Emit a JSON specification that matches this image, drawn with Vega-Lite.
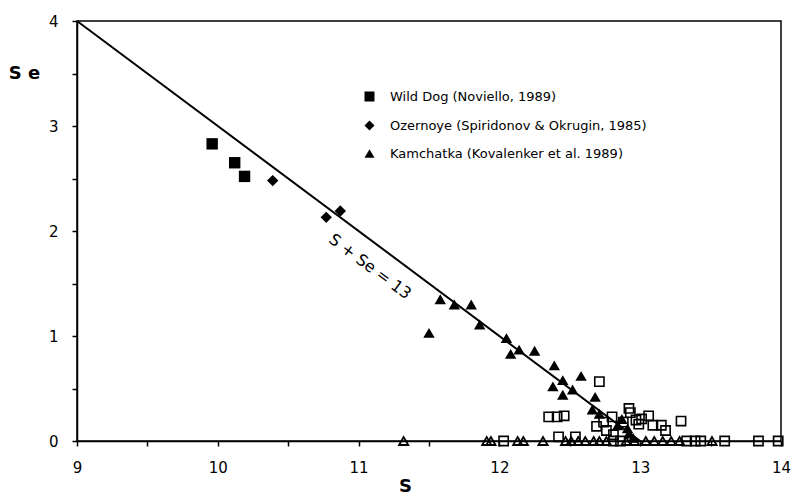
{
  "$schema": "https://vega.github.io/schema/vega-lite/v6.json",
  "autosize": "none",
  "width": 704,
  "height": 420,
  "padding": {"left": 77, "top": 21, "right": 10, "bottom": 57},
  "background": "white",
  "config": {
    "view": {"stroke": "black", "strokeWidth": 1.5},
    "font": "DejaVu Sans"
  },
  "datasets": {
    "pts": [
      {"S": 9.96, "Se": 2.83, "series": "Wild Dog (Noviello, 1989)"},
      {"S": 10.12, "Se": 2.65, "series": "Wild Dog (Noviello, 1989)"},
      {"S": 10.19, "Se": 2.52, "series": "Wild Dog (Noviello, 1989)"},
      {"S": 10.39, "Se": 2.48, "series": "Ozernoye (Spiridonov  & Okrugin, 1985)"},
      {"S": 10.77, "Se": 2.13, "series": "Ozernoye (Spiridonov  & Okrugin, 1985)"},
      {"S": 10.87, "Se": 2.19, "series": "Ozernoye (Spiridonov  & Okrugin, 1985)"},
      {"S": 11.50, "Se": 1.03, "series": "Kamchatka (Kovalenker et al. 1989)"},
      {"S": 11.58, "Se": 1.35, "series": "Kamchatka (Kovalenker et al. 1989)"},
      {"S": 11.68, "Se": 1.30, "series": "Kamchatka (Kovalenker et al. 1989)"},
      {"S": 11.80, "Se": 1.30, "series": "Kamchatka (Kovalenker et al. 1989)"},
      {"S": 11.86, "Se": 1.11, "series": "Kamchatka (Kovalenker et al. 1989)"},
      {"S": 12.05, "Se": 0.98, "series": "Kamchatka (Kovalenker et al. 1989)"},
      {"S": 12.08, "Se": 0.83, "series": "Kamchatka (Kovalenker et al. 1989)"},
      {"S": 12.14, "Se": 0.87, "series": "Kamchatka (Kovalenker et al. 1989)"},
      {"S": 12.25, "Se": 0.86, "series": "Kamchatka (Kovalenker et al. 1989)"},
      {"S": 12.39, "Se": 0.72, "series": "Kamchatka (Kovalenker et al. 1989)"},
      {"S": 12.38, "Se": 0.52, "series": "Kamchatka (Kovalenker et al. 1989)"},
      {"S": 12.45, "Se": 0.58, "series": "Kamchatka (Kovalenker et al. 1989)"},
      {"S": 12.45, "Se": 0.44, "series": "Kamchatka (Kovalenker et al. 1989)"},
      {"S": 12.52, "Se": 0.49, "series": "Kamchatka (Kovalenker et al. 1989)"},
      {"S": 12.58, "Se": 0.62, "series": "Kamchatka (Kovalenker et al. 1989)"},
      {"S": 12.68, "Se": 0.42, "series": "Kamchatka (Kovalenker et al. 1989)"},
      {"S": 12.66, "Se": 0.30, "series": "Kamchatka (Kovalenker et al. 1989)"},
      {"S": 12.71, "Se": 0.26, "series": "Kamchatka (Kovalenker et al. 1989)"},
      {"S": 12.84, "Se": 0.15, "series": "Kamchatka (Kovalenker et al. 1989)"},
      {"S": 12.87, "Se": 0.21, "series": "Kamchatka (Kovalenker et al. 1989)"},
      {"S": 12.91, "Se": 0.12, "series": "Kamchatka (Kovalenker et al. 1989)"},
      {"S": 12.92, "Se": 0.07, "series": "Kamchatka (Kovalenker et al. 1989)"},
      {"S": 12.95, "Se": 0.03, "series": "Kamchatka (Kovalenker et al. 1989)"}
    ],
    "opensq": [
      {"S": 12.35, "Se": 0.23}, {"S": 12.41, "Se": 0.23}, {"S": 12.46, "Se": 0.24},
      {"S": 12.71, "Se": 0.565}, {"S": 12.42, "Se": 0.04}, {"S": 12.54, "Se": 0.04},
      {"S": 12.69, "Se": 0.14}, {"S": 12.74, "Se": 0.18}, {"S": 12.80, "Se": 0.23},
      {"S": 12.76, "Se": 0.10}, {"S": 12.81, "Se": 0.06}, {"S": 12.92, "Se": 0.31},
      {"S": 12.93, "Se": 0.27}, {"S": 12.99, "Se": 0.16}, {"S": 13.06, "Se": 0.24},
      {"S": 13.09, "Se": 0.15}, {"S": 13.15, "Se": 0.15}, {"S": 13.18, "Se": 0.10},
      {"S": 13.01, "Se": 0.21}, {"S": 13.29, "Se": 0.19}, {"S": 12.97, "Se": 0.20},
      {"S": 12.88, "Se": 0.18},
      {"S": 12.03, "Se": 0}, {"S": 12.81, "Se": 0}, {"S": 12.86, "Se": 0},
      {"S": 13.33, "Se": 0}, {"S": 13.39, "Se": 0}, {"S": 13.43, "Se": 0},
      {"S": 13.60, "Se": 0}, {"S": 13.84, "Se": 0}, {"S": 13.98, "Se": 0}
    ],
    "opentri": [
      {"S": 11.32, "Se": 0}, {"S": 11.91, "Se": 0}, {"S": 11.94, "Se": 0},
      {"S": 12.13, "Se": 0}, {"S": 12.17, "Se": 0}, {"S": 12.31, "Se": 0},
      {"S": 12.47, "Se": 0}, {"S": 12.51, "Se": 0}, {"S": 12.56, "Se": 0},
      {"S": 12.61, "Se": 0}, {"S": 12.67, "Se": 0}, {"S": 12.71, "Se": 0},
      {"S": 12.76, "Se": 0}, {"S": 12.90, "Se": 0}, {"S": 12.96, "Se": 0},
      {"S": 13.04, "Se": 0}, {"S": 13.10, "Se": 0}, {"S": 13.16, "Se": 0},
      {"S": 13.22, "Se": 0}, {"S": 13.28, "Se": 0}, {"S": 13.51, "Se": 0}
    ],
    "line": [
      {"S": 9, "Se": 4},
      {"S": 13, "Se": 0}
    ],
    "label": [
      {"S": 11.08, "Se": 1.66, "text": "S + Se = 13"}
    ]
  },
  "encoding": {
    "x": {
      "field": "S", "type": "quantitative",
      "scale": {"domain": [9, 14], "nice": false, "zero": false},
      "axis": {
        "title": "S", "titleFontSize": 18, "titleFontWeight": "bold",
        "titleX": 328, "titleY": 36, "titleAnchor": "start", "titleAlign": "center",
        "values": [9, 9.5, 10, 10.5, 11, 11.5, 12, 12.5, 13, 13.5, 14],
        "labelExpr": "datum.value % 1 === 0 ? format(datum.value, 'd') : ''",
        "labelFontSize": 15, "labelPadding": 14, "labelColor": "black",
        "tickSize": 5, "tickColor": "black", "tickWidth": 1.5,
        "domainColor": "black", "domainWidth": 1.5, "grid": false,
        "labelFlush": false, "labelOverlap": false
      }
    },
    "y": {
      "field": "Se", "type": "quantitative",
      "scale": {"domain": [0, 4], "nice": false},
      "axis": {
        "title": "S e", "titleFontSize": 18, "titleFontWeight": "bold",
        "titleAngle": 0, "titleX": -53, "titleY": 52, "titleAlign": "center",
        "titleBaseline": "middle", "titleAnchor": "start",
        "values": [0, 0.5, 1, 1.5, 2, 2.5, 3, 3.5, 4],
        "labelExpr": "datum.value % 1 === 0 ? format(datum.value, 'd') : ''",
        "labelFontSize": 15, "labelPadding": 14, "labelColor": "black",
        "tickSize": 5, "tickColor": "black", "tickWidth": 1.5,
        "domainColor": "black", "domainWidth": 1.5, "grid": false,
        "labelFlush": false, "labelOverlap": false
      }
    }
  },
  "layer": [
    {
      "data": {"name": "line"},
      "mark": {"type": "line", "color": "black", "strokeWidth": 2},
      "encoding": {}
    },
    {
      "data": {"name": "opensq"},
      "mark": {"type": "point", "shape": "square", "filled": false, "color": "black", "strokeWidth": 1.6, "size": 85, "opacity": 1},
      "encoding": {}
    },
    {
      "data": {"name": "opentri"},
      "mark": {"type": "point", "shape": "triangle-up", "filled": false, "color": "black", "strokeWidth": 1.8, "size": 85, "opacity": 1},
      "encoding": {}
    },
    {
      "data": {"name": "pts"},
      "mark": {"type": "point", "filled": true, "color": "black", "opacity": 1, "size": 130},
      "encoding": {
        "shape": {
          "field": "series", "type": "nominal",
          "scale": {
            "domain": ["Wild Dog (Noviello, 1989)", "Ozernoye (Spiridonov  & Okrugin, 1985)", "Kamchatka (Kovalenker et al. 1989)"],
            "range": ["square", "diamond", "triangle-up"]
          },
          "legend": {
            "orient": "none", "legendX": 286, "legendY": 69, "title": null,
            "labelFontSize": 13, "labelColor": "black", "labelOffset": 14,
            "symbolSize": 100, "symbolFillColor": "black", "symbolStrokeColor": "black",
            "rowPadding": 12, "labelLimit": 400
          }
        }
      }
    },
    {
      "data": {"name": "label"},
      "mark": {"type": "text", "angle": 36.7, "fontSize": 16, "color": "black", "align": "center", "baseline": "middle"},
      "encoding": {"text": {"field": "text"}}
    }
  ]
}
